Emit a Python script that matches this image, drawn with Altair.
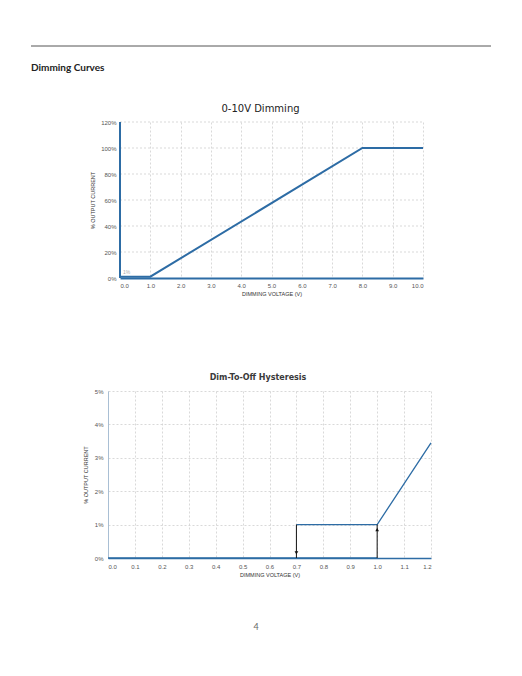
import altair as alt
import pandas as pd

# ---------------- data ----------------
page_heading = ["Dimming Curves"]
page_number = ["4"]

# Chart 1: 0-10V Dimming
c1_title = ["0-10V Dimming"]
c1_voltage = [0.0, 1.0, 8.0, 10.0]
c1_output = [1, 1, 100, 100]
c1_xticks = [0, 1, 2, 3, 4, 5, 6, 7, 8, 9, 10]
c1_yticks = [0, 20, 40, 60, 80, 100, 120]
c1_note_x = [0.1]
c1_note_y = [4.5]
c1_note_text = ["1%"]

# Chart 2: Dim-To-Off Hysteresis
c2_title = ["Dim-To-Off Hysteresis"]
c2_off_voltage = [0.0, 1.0]
c2_off_output = [0, 0]
c2_on_voltage = [0.7, 1.0, 1.2]
c2_on_output = [1, 1, 3.45]
c2_arrow_voltage = [0.7, 1.0]
c2_arrow_from = [1, 0]
c2_arrow_to = [0, 1]
c2_head_voltage = [0.7, 1.0]
c2_head_output = [0.15, 0.85]
c2_head_shape = ["triangle-down", "triangle-up"]
c2_xticks = [0.0, 0.1, 0.2, 0.3, 0.4, 0.5, 0.6, 0.7, 0.8, 0.9, 1.0, 1.1, 1.2]
c2_yticks = [0, 1, 2, 3, 4, 5]

x_title = "DIMMING VOLTAGE (V)"
y_title = "% OUTPUT CURRENT"

BLUE = "#2d6ca5"
GRID = "#cfcfcf"
FONT = "Liberation Sans"

# chart 1 sits 12px right of chart 2; its panel spans both, its plot starts at INSET
INSET = 12
W1, H1 = 315, 156
W2, H2 = 323, 167


def blank(w, h, top):
    """Empty spacer panel; its invisible marker fixes the page's top-left corner."""
    d = pd.DataFrame({"t": ["."]})
    return alt.Chart(d).mark_text(opacity=0, fontSize=2, align="left", baseline="top").encode(
        x=alt.value(0), y=alt.value(top), text="t:N").properties(width=w, height=h)


def axis(values, fmt=None, expr=None, title="", domain_color=BLUE, domain_width=1.0,
         label_pad=4, title_pad=3, grid=True, offset=0, domain=True):
    kw = dict(values=values, tickCount=30, grid=grid, gridDash=[2, 2], gridColor=GRID,
              gridWidth=0.8, ticks=False, domain=domain, domainColor=domain_color,
              domainWidth=domain_width,
              labelFont=FONT, labelFontSize=6, labelColor="#555", labelPadding=label_pad,
              labelOverlap=False, offset=offset,
              title=title, titleFont=FONT, titleFontSize=5.5, titleFontWeight="normal",
              titleColor="#333", titlePadding=title_pad)
    if fmt:
        kw["format"] = fmt
    if expr:
        kw["labelExpr"] = expr
    return alt.Axis(**kw)


# ---------------- chart 1 (with page heading) ----------------
d1 = pd.DataFrame({"v": c1_voltage, "p": c1_output, "o": list(range(len(c1_voltage)))})
n1 = pd.DataFrame({"v": c1_note_x, "p": c1_note_y, "t": c1_note_text})
g1 = pd.DataFrame({"p": [v for v in c1_yticks if v > 0]})
hd = pd.DataFrame({"t": page_heading})
t1 = pd.DataFrame({"t": c1_title})
x1 = alt.X("v:Q", scale=alt.Scale(domain=[0, 10], nice=False, range=[INSET, W1]),
           axis=axis(c1_xticks, fmt=".1f", title=x_title, domain_width=2, label_pad=4, title_pad=3))
y1 = alt.Y("p:Q", scale=alt.Scale(domain=[0, 120], nice=False),
           axis=axis(c1_yticks, expr="datum.value + '%'", title=y_title, domain=False,
                     label_pad=4, title_pad=5, grid=False, offset=-INSET))
chart1 = alt.layer(
    alt.Chart(g1).mark_rule(color=GRID, strokeWidth=0.8, strokeDash=[2, 2]).encode(
        y=y1, x=alt.value(INSET), x2=alt.value(W1)),
    alt.Chart(hd).mark_rule(color=BLUE, strokeWidth=2).encode(
        x=alt.datum(c1_xticks[0]), y=alt.datum(c1_yticks[0]), y2=alt.datum(c1_yticks[-1])),
    alt.Chart(d1).mark_line(color=BLUE, strokeWidth=2).encode(x=x1, y="p:Q", order="o:Q"),
    alt.Chart(n1).mark_text(color="#aaa", fontSize=5, font=FONT, align="left").encode(
        x=alt.X("v:Q"), y=alt.Y("p:Q"), text="t:N"),
    alt.Chart(hd).mark_rule(color="#555", strokeWidth=1).encode(
        x=alt.value(-77), x2=alt.value(383), y=alt.value(-76)),
    alt.Chart(hd).mark_text(font="Lato", fontSize=10, fontWeight="bold", color="#222",
                            align="left", baseline="alphabetic").encode(
        x=alt.value(-77), y=alt.value(-51), text="t:N"),
    alt.Chart(t1).mark_text(font="DejaVu Sans", fontSize=10, color="#222", align="center",
                            baseline="alphabetic").encode(
        x=alt.value(152.5), y=alt.value(-10.5), text="t:N"),
).properties(width=W1, height=H1)

# ---------------- chart 2 (with page number) ----------------
off2 = pd.DataFrame({"v": c2_off_voltage, "p": c2_off_output})
on2 = pd.DataFrame({"v": c2_on_voltage, "p": c2_on_output, "o": list(range(len(c2_on_voltage)))})
ar2 = pd.DataFrame({"v": c2_arrow_voltage, "p": c2_arrow_from, "p2": c2_arrow_to})
hd2 = pd.DataFrame({"v": c2_head_voltage, "p": c2_head_output, "s": c2_head_shape})
fd = pd.DataFrame({"t": page_number})
t2 = pd.DataFrame({"t": c2_title})
x2 = alt.X("v:Q", scale=alt.Scale(domain=[0, 1.2], nice=False),
           axis=axis(c2_xticks, fmt=".1f", title=x_title, domain_width=1.5, label_pad=5, title_pad=3))
y2 = alt.Y("p:Q", scale=alt.Scale(domain=[0, 5], nice=False),
           axis=axis(c2_yticks, expr="datum.value + '%'", title=y_title, domain_color="#a9bfd4",
                     domain_width=1, label_pad=5, title_pad=6))
chart2 = alt.layer(
    alt.Chart(off2).mark_line(color=BLUE, strokeWidth=1.3).encode(x=x2, y=y2),
    alt.Chart(on2).mark_line(color=BLUE, strokeWidth=1.3).encode(x="v:Q", y="p:Q", order="o:Q"),
    alt.Chart(ar2).mark_rule(color="#111", strokeWidth=1).encode(x="v:Q", y="p:Q", y2="p2:Q"),
    alt.Chart(hd2).mark_point(filled=True, color="#111", size=14, opacity=1).encode(
        x="v:Q", y="p:Q", shape=alt.Shape("s:N", scale=None)),
    alt.Chart(t2).mark_text(font="DejaVu Sans", fontSize=8, fontWeight="bold", color="#3a3a3a",
                            align="center", baseline="alphabetic").encode(
        x=alt.value(150), y=alt.value(-11.5), text="t:N"),
    alt.Chart(fd).mark_text(font="Lato", fontSize=9, color="#666", align="center",
                            baseline="alphabetic").encode(
        x=alt.value(148), y=alt.value(239), text="t:N"),
).properties(width=W2, height=H2)

chart = alt.concat(
    blank(100, H1, -114), chart1,
    blank(100, H2, 0), chart2,
    columns=2, align="each", bounds="flush",
    spacing={"row": 113, "column": 0}, padding=0,
).configure_view(strokeWidth=0)

chart.save("out.html", embed_options={"renderer": "svg", "actions": False})
